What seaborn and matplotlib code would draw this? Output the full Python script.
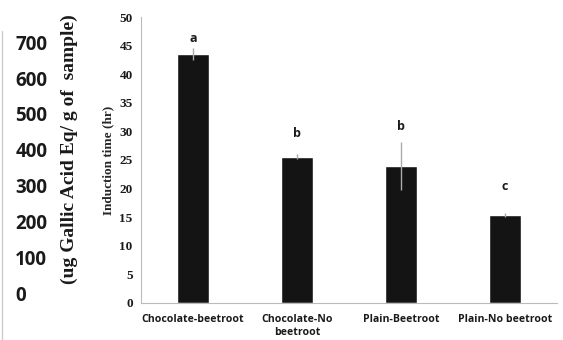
import matplotlib
matplotlib.use("Agg")
import matplotlib.pyplot as plt
from matplotlib.lines import Line2D
import seaborn as sns
import pandas as pd

# data
samples = ["Chocolate-beetroot", "Chocolate-No\nbeetroot", "Plain-Beetroot", "Plain-No beetroot"]
induction_time = [43.5, 25.6, 24.0, 15.4]
std_err = [1.0, 0.4, 4.2, 0.4]
letters = ["a", "b", "b", "c"]
letter_y = [46.3, 29.7, 30.8, 20.3]

# leftover axis of the neighbouring panel
left_ticks = [0, 100, 200, 300, 400, 500, 600, 700]
left_label = "(ug Gallic Acid Eq/ g of  sample)"

df = pd.DataFrame({"sample": samples, "time": induction_time})

sns.set_style("white")
fig = plt.figure(figsize=(5.63, 3.40), dpi=100)

# left panel remains ---------------------------------------------------------
ax0 = fig.add_axes([0.027, 0.138, 0.001, 0.738])
ax0.set_ylim(0, 700)
ax0.set_yticks(left_ticks)
ax0.set_yticklabels([str(v) for v in left_ticks], ha="left", fontsize=13.5,
                    fontweight="bold", family="Open Sans", color="#1a1a1a")
ax0.tick_params(axis="y", length=0, pad=0)
ax0.set_xticks([])
for s in ax0.spines.values():
    s.set_visible(False)
fig.text(0.124, 0.56, left_label, rotation=90, ha="center", va="center",
         fontsize=14, fontweight="bold", family="Liberation Serif", color="#1a1a1a")
fig.add_artist(Line2D([0.003, 0.003], [0.0, 0.91], color="#cccccc", lw=1))

# main chart -----------------------------------------------------------------
ax = fig.add_axes([0.2504, 0.109, 0.739, 0.841])
sns.barplot(data=df, x="sample", y="time", color="#141414", width=0.31,
            saturation=1, errorbar=None, ax=ax)
ax.errorbar(range(len(samples)), induction_time, yerr=std_err, fmt="none",
            ecolor="#aaaaaa", elinewidth=1, capsize=0)
for i, (lab, yy) in enumerate(zip(letters, letter_y)):
    ax.text(i, yy, lab, ha="center", va="center", fontsize=9,
            fontweight="bold", family="Open Sans", color="#1a1a1a")

ax.set_ylim(0, 50)
ax.set_xlim(-0.5, 3.5)
ax.set_yticks(range(0, 51, 5))
ax.set_xlabel("")
ax.set_ylabel("Induction time (hr)", fontsize=9.5, fontweight="bold",
              family="Liberation Serif", labelpad=4)
for t in ax.get_yticklabels():
    t.set_fontfamily("Liberation Serif")
    t.set_fontweight("bold")
    t.set_fontsize(9.5)
for t in ax.get_xticklabels():
    t.set_fontfamily("Open Sans")
    t.set_fontweight("bold")
    t.set_fontsize(7.6)
ax.tick_params(axis="y", length=0, pad=6, colors="#1a1a1a")
ax.tick_params(axis="x", length=0, pad=8, colors="#1a1a1a")
sns.despine(ax=ax)
ax.spines["left"].set_color("#bbbbbb")
ax.spines["bottom"].set_color("#bbbbbb")

fig.savefig("out.png", dpi=100)
